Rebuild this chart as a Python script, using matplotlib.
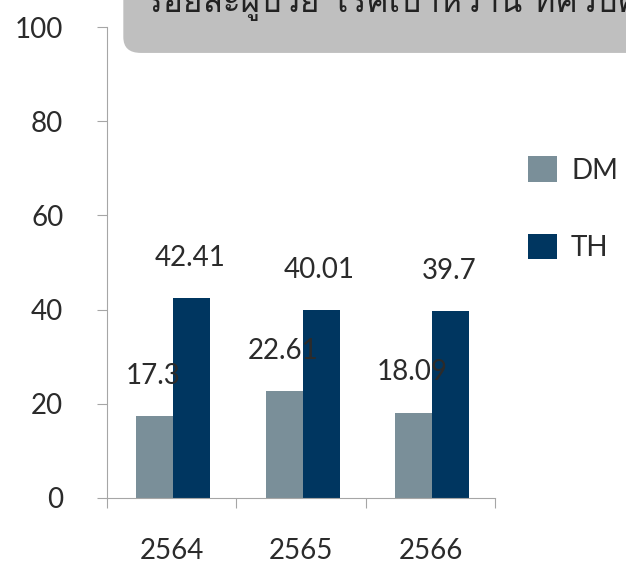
import numpy as np
import matplotlib
matplotlib.use('Agg')
import matplotlib.pyplot as plt
from matplotlib import font_manager
from matplotlib.ft2font import FT2Font
from matplotlib.patches import FancyBboxPatch

years = ['2564', '2565', '2566']
dm = [17.3, 22.61, 18.09]
th = [42.41, 40.01, 39.7]
dm_labels = ['17.3', '22.61', '18.09']
th_labels = ['42.41', '40.01', '39.7']
title = 'ร้อยละผู้ป่วย โรคเบาหวาน ที่ควบคุมระดับน้ำตาลได้ดี'

# find a font with thai glyphs, if any
thai_font = None
for f in font_manager.fontManager.ttflist:
    try:
        if 0x0E01 in FT2Font(f.fname).get_charmap():
            thai_font = f.name
            break
    except Exception:
        pass

plt.rcParams['font.family'] = ['Lato', 'DejaVu Sans']
txt_col = '#2b2b2b'
grid_col = '#a6a6a6'

fig = plt.figure(figsize=(6.26, 5.63), dpi=100)
ax = fig.add_axes([0.171, 0.1155, 0.62, 0.8365])

x = np.arange(len(years))
w = 0.285
b1 = ax.bar(x - w / 2 + 0.012, dm, w, color='#7a8f99', label='DM')
b2 = ax.bar(x + w / 2 + 0.012, th, w, color='#003660', label='TH')

for i in range(len(years)):
    ax.text(x[i] - w / 2, dm[i] + 8.7, dm_labels[i], ha='center', va='center',
            fontsize=20, color=txt_col)
    ax.text(x[i] + w / 2, th[i] + 8.5, th_labels[i], ha='center', va='center',
            fontsize=20, color=txt_col)

ax.set_xlim(-0.5, 2.5)
ax.set_ylim(0, 100)
ax.set_yticks([0, 20, 40, 60, 80, 100])
ax.set_xticks([-0.5, 0.5, 1.5, 2.5])
ax.set_xticklabels([])
ax.set_xticks(x, minor=True)
ax.set_xticklabels(years, minor=True)
ax.tick_params(axis='x', which='minor', length=0, pad=29, labelsize=20, labelcolor=txt_col)
ax.tick_params(axis='x', which='major', length=7.5, color=grid_col)
ax.tick_params(axis='y', length=7.5, color=grid_col, labelsize=20, labelcolor=txt_col, pad=24)
for s in ['top', 'right']:
    ax.spines[s].set_visible(False)
for s in ['left', 'bottom']:
    ax.spines[s].set_color(grid_col)

leg = fig.legend(handles=[b1, b2], loc='upper left', bbox_to_anchor=(0.8435, 0.7226),
                 frameon=False, fontsize=20, labelspacing=1.8, handlelength=1.05,
                 handleheight=1.05, handletextpad=0.5, borderpad=0, borderaxespad=0)
for t in leg.get_texts():
    t.set_color(txt_col)

box = FancyBboxPatch((0.197, 0.906), 0.9, 0.2, boxstyle='round,pad=0,rounding_size=0.028',
                     transform=fig.transFigure, facecolor='#bfbfbf', edgecolor='none')
fig.patches.append(box)
tfam = [thai_font, 'DejaVu Sans'] if thai_font else ['DejaVu Sans']
fig.text(0.232, 0.979, title, ha='left', va='baseline', fontsize=24,
         color='#222222', family=tfam)

fig.savefig('out.png', dpi=100)
